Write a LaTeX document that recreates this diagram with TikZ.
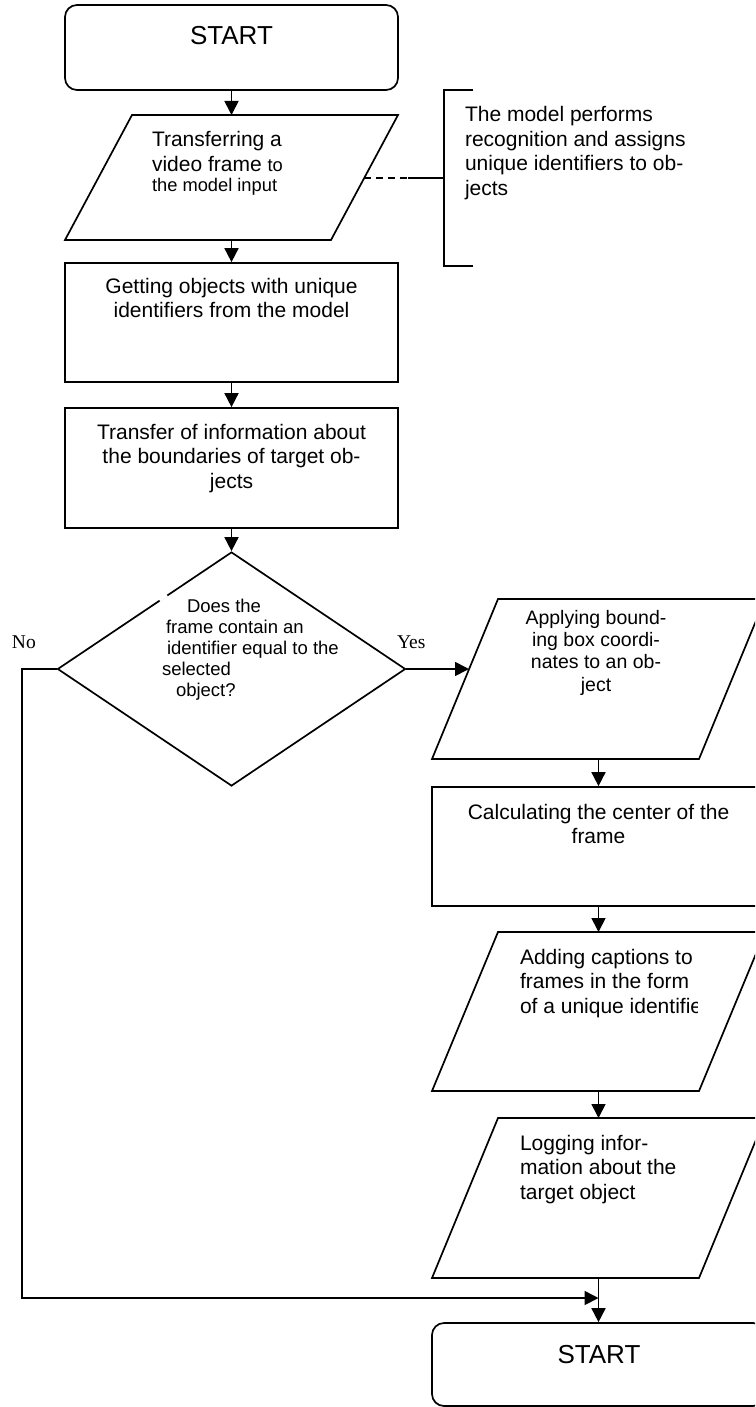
\documentclass[tikz,border=0pt]{standalone}
\usepackage{fontspec}
\setmainfont{Liberation Sans}
\newfontfamily\tnrfont{Liberation Serif}
\usetikzlibrary{arrows.meta,shapes.geometric}
\newcommand\fmain{\fontsize{21}{24.5}\selectfont}
\newcommand\fsmalltxt{\fontsize{18.3}{21}\selectfont}
\newcommand\fdia{\fontsize{18.5}{20.8}\selectfont}
\newcommand\fapp{\fontsize{19.5}{22.3}\selectfont}
\newcommand\fstart{\fontsize{26}{30}\selectfont}
\begin{document}
\begin{tikzpicture}[x=1pt,y=-1pt,
  shapeline/.style={line width=1.7pt, line join=miter},
  boxnode/.style={draw, shapeline, inner sep=0pt, minimum width=333pt},
  termnode/.style={boxnode, rounded corners=12pt},
  ghost/.style={inner sep=0pt, outer sep=0pt, minimum width=333pt},
  decnode/.style={diamond, draw, shapeline, inner sep=0pt, minimum width=348pt, minimum height=234pt},
  conn/.style={line width=1.7pt, -{Triangle[width=14pt,length=14pt]}},
  txt/.style={inner sep=0pt, outer sep=0pt, font=\fmain, text=black},
]
\useasboundingbox (0,0) rectangle (755,1407);
\fill[white] (0,0) rectangle (755,1407);
\clip (0,0) rectangle (755,1407);

% ---------- left column ----------
\node[termnode, minimum height=85pt] (start1) at (231.5,47.5) {};
\node[txt, font=\fstart, anchor=base] (start1t) at (231.5,45) {START};

\node[ghost, minimum height=125pt] (p1) at (231.5,177.5) {};
\draw[shapeline] (p1.south west) -- ([xshift=-67pt]p1.south east) -- (p1.north east) -- ([xshift=67pt]p1.north west) -- cycle;
\node[txt, anchor=north west, align=left] (p1t) at (152,131.7)
  {Transferring a\\ video frame {\fsmalltxt to}\\[-4pt] {\fsmalltxt the model input}};

\node[boxnode, minimum height=119pt] (b2) at (231.5,322.5) {};
\node[txt, anchor=north, align=center] (b2t) at (231.5,278)
  {Getting objects with unique\\ identifiers from the model};

\node[boxnode, minimum height=120pt] (b3) at (231.5,468) {};
\node[txt, anchor=north, align=center] (b3t) at (231.5,424)
  {Transfer of information about\\ the boundaries of target ob-\\ jects};

\node[decnode] (dia) at (231.5,669) {};
\draw[white, line width=3.2pt] (159.5,600.2) -- (167,595.2);
\node[txt, font=\fdia, anchor=north west, align=left] (diat) at (162,599.5)
  {\hspace*{25pt}Does the\\ \hspace*{4pt}frame contain an\\ \hspace*{5pt}identifier equal to the\\ selected\\ \hspace*{14pt}object?};

\node[txt, font={\tnrfont\fontsize{19.5}{22}\selectfont}, anchor=base west] (nolab) at (12,648) {No};
\node[txt, font={\tnrfont\fontsize{19.5}{22}\selectfont}, anchor=base west] (yeslab) at (397,648) {Yes};

% ---------- annotation ----------
\coordinate (dashstart) at (364.2,178);
\coordinate (dashend) at (408,178);
\coordinate (brmid) at (444,178);
\coordinate (brtop) at (473,90);
\coordinate (brtopc) at (444,90);
\coordinate (brbotc) at (444,266);
\coordinate (brbot) at (473,266);
\draw[line width=1.7pt, dash pattern=on 7pt off 5pt] (dashstart) -- (dashend);
\draw[line width=1.7pt] (dashend) -- (brmid);
\draw[line width=2.2pt] (brtop) -- (brtopc) -- (brbotc) -- (brbot);
\node[txt, anchor=north west, align=left] (notet) at (465,106.7)
  {The model performs\\ recognition and assigns\\ unique identifiers to ob-\\ jects};

% ---------- right column ----------
\node[ghost, minimum height=160pt] (p2) at (598.5,679) {};
\draw[shapeline] (p2.south west) -- ([xshift=-66pt]p2.south east) -- (p2.north east) -- ([xshift=66pt]p2.north west) -- cycle;
\node[txt, font=\fapp, anchor=north, align=center] (p2t) at (596,610)
  {Applying bound-\\ ing box coordi-\\ nates to an ob-\\ ject};

\node[boxnode, minimum height=119pt] (b4) at (598.5,846.5) {};
\node[txt, anchor=north, align=center] (b4t) at (598.5,804)
  {Calculating the center of the\\ frame};

\node[ghost, minimum height=159pt] (p3) at (598.5,1011.5) {};
\draw[shapeline] (p3.south west) -- ([xshift=-66pt]p3.south east) -- (p3.north east) -- ([xshift=66pt]p3.north west) -- cycle;
\begin{scope}
  \clip (432,930) rectangle (697,1095);
  \node[txt, anchor=north west, align=left] (p3t) at (520,949)
    {Adding captions to\\ frames in the form\\ of a unique identifier};
\end{scope}

\node[ghost, minimum height=160pt] (p4) at (598.5,1198) {};
\draw[shapeline] (p4.south west) -- ([xshift=-66pt]p4.south east) -- (p4.north east) -- ([xshift=66pt]p4.north west) -- cycle;
\node[txt, anchor=north west, align=left] (p4t) at (520,1135)
  {Logging infor-\\ mation about the\\ target object};

\node[termnode, minimum height=83pt] (end) at (598.5,1364.5) {};
\node[txt, font=\fstart, anchor=base] (endt) at (599,1363) {START};

% ---------- connectors ----------
\draw[conn] (start1.south) -- (p1.north);
\draw[conn] (p1.south) -- (b2.north);
\draw[conn] (b2.south) -- (b3.north);
\draw[conn] (b3.south) -- (dia.north);
\coordinate (yesend) at (469,669);
\draw[conn] (dia.east) -- (yesend);
\draw[conn] (p2.south) -- (b4.north);
\draw[conn] (b4.south) -- (p3.north);
\draw[conn] (p3.south) -- (p4.north);
\draw[conn] (p4.south) -- (end.north);
\coordinate (nocorner) at (22,1298);
\coordinate (nojoin) at (598.5,1298);
\draw[conn, line join=miter] (dia.west) -| (nocorner) -- (nojoin);
\end{tikzpicture}
\end{document}
